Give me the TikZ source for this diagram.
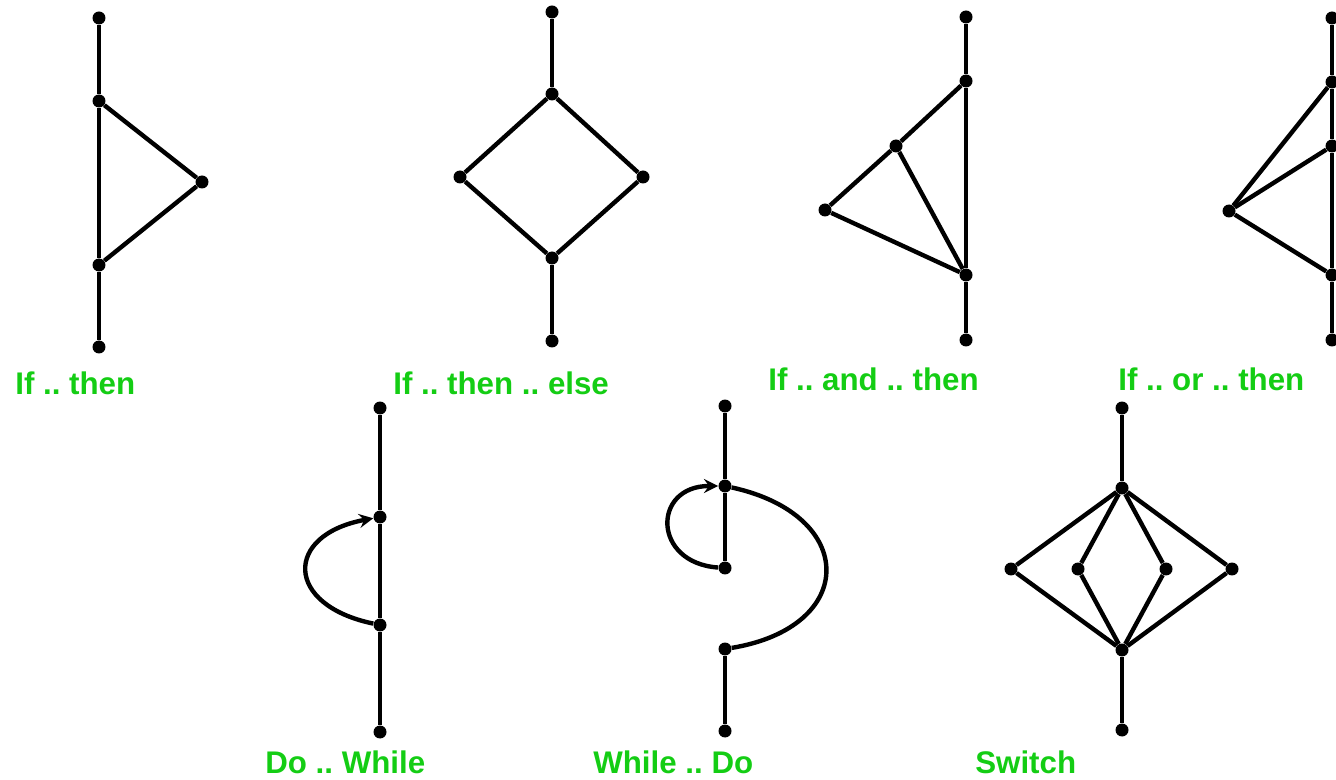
\documentclass[tikz,border=0pt]{standalone}
\usepackage{fontspec}
\setmainfont{Liberation Sans}
\usetikzlibrary{arrows,positioning}
\definecolor{lblgreen}{RGB}{20,205,20}
\frenchspacing

\begin{document}
\begin{tikzpicture}[
    x=0.02cm, y=-0.02cm,
    dot/.style={circle, fill=black, inner sep=0pt, minimum size=0.26cm},
    edge/.style={line width=2.5pt},
    arrow/.style={edge, ->, >=stealth},
    lbl/.style={anchor=base west, text=lblgreen, font=\fontsize{17.8}{20}\selectfont\bfseries, inner sep=0pt}
]
    \useasboundingbox (0,0) rectangle (1336,780);

    % If .. then
    \node[dot] (it-top) at (99,18) {};
    \node[dot] (it-a) at (99,101) {};
    \node[dot] (it-r) at (202,182) {};
    \node[dot] (it-b) at (99,265) {};
    \node[dot] (it-bot) at (99,347) {};
    \draw[edge] (it-top) -- (it-a);
    \draw[edge] (it-a) -- (it-b);
    \draw[edge] (it-b) -- (it-bot);
    \draw[edge] (it-a) -- (it-r);
    \draw[edge] (it-r) -- (it-b);
    \node[lbl] (it-lbl) at (15,395) {If .. then};

    % If .. then .. else
    \node[dot] (ite-top) at (552,12) {};
    \node[dot] (ite-a) at (552,94) {};
    \node[dot] (ite-l) at (460,177) {};
    \node[dot] (ite-r) at (643,177) {};
    \node[dot] (ite-b) at (552,258) {};
    \node[dot] (ite-bot) at (552,341) {};
    \draw[edge] (ite-top) -- (ite-a);
    \draw[edge] (ite-a) -- (ite-l);
    \draw[edge] (ite-a) -- (ite-r);
    \draw[edge] (ite-l) -- (ite-b);
    \draw[edge] (ite-r) -- (ite-b);
    \draw[edge] (ite-b) -- (ite-bot);
    \node[lbl] (ite-lbl) at (393,395) {If .. then .. else};

    % If .. and .. then
    \node[dot] (iat-top) at (966,17) {};
    \node[dot] (iat-a) at (966,81) {};
    \node[dot] (iat-m) at (896,146) {};
    \node[dot] (iat-l) at (825,210) {};
    \node[dot] (iat-b) at (966,275) {};
    \node[dot] (iat-bot) at (966,340) {};
    \draw[edge] (iat-top) -- (iat-a);
    \draw[edge] (iat-a) -- (iat-b);
    \draw[edge] (iat-b) -- (iat-bot);
    \draw[edge] (iat-a) -- (iat-m);
    \draw[edge] (iat-m) -- (iat-l);
    \draw[edge] (iat-l) -- (iat-b);
    \draw[edge] (iat-m) -- (iat-b);
    \node[lbl] (iat-lbl) at (768,391) {If .. and .. then};

    % If .. or .. then
    \node[dot] (iot-top) at (1332,18) {};
    \node[dot] (iot-a) at (1332,82) {};
    \node[dot] (iot-m) at (1332,146) {};
    \node[dot] (iot-l) at (1229,211) {};
    \node[dot] (iot-b) at (1332,275) {};
    \node[dot] (iot-bot) at (1332,340) {};
    \draw[edge] (iot-top) -- (iot-a);
    \draw[edge] (iot-a) -- (iot-m);
    \draw[edge] (iot-m) -- (iot-b);
    \draw[edge] (iot-b) -- (iot-bot);
    \draw[edge] (iot-l) -- (iot-a);
    \draw[edge] (iot-l) -- (iot-m);
    \draw[edge] (iot-l) -- (iot-b);
    \node[lbl] (iot-lbl) at (1118,391) {If .. or .. then};

    % Do .. While
    \node[dot] (dw-top) at (380,408) {};
    \node[dot] (dw-a) at (380,517) {};
    \node[dot] (dw-b) at (380,625) {};
    \node[dot] (dw-bot) at (380,732) {};
    \draw[edge] (dw-top) -- (dw-a);
    \draw[edge] (dw-a) -- (dw-b);
    \draw[edge] (dw-b) -- (dw-bot);
    \draw[arrow] (dw-b) .. controls (284,605) and (284,535) .. (dw-a);
    \node[lbl] (dw-lbl) at (265,773) {Do .. While};

    % While .. Do
    \node[dot] (wd-top) at (725,406) {};
    \node[dot] (wd-a) at (725,486) {};
    \node[dot] (wd-c) at (725,568) {};
    \node[dot] (wd-d) at (725,649) {};
    \node[dot] (wd-bot) at (725,731) {};
    \draw[edge] (wd-top) -- (wd-a);
    \draw[edge] (wd-a) -- (wd-c);
    \draw[edge] (wd-d) -- (wd-bot);
    \draw[arrow] (wd-c) .. controls (652,563) and (652,486) .. (wd-a);
    \draw[edge] (wd-a) .. controls (858,515) and (858,627) .. (wd-d);
    \node[lbl] (wd-lbl) at (593,773) {While .. Do};

    % Switch
    \node[dot] (sw-top) at (1122,408) {};
    \node[dot] (sw-a) at (1122,488) {};
    \node[dot] (sw-l) at (1011,569) {};
    \node[dot] (sw-il) at (1078,569) {};
    \node[dot] (sw-ir) at (1166,569) {};
    \node[dot] (sw-r) at (1232,569) {};
    \node[dot] (sw-b) at (1122,650) {};
    \node[dot] (sw-bot) at (1122,730) {};
    \draw[edge] (sw-top) -- (sw-a);
    \draw[edge] (sw-b) -- (sw-bot);
    \foreach \n in {l,il,ir,r} {
        \draw[edge] (sw-a) -- (sw-\n);
        \draw[edge] (sw-\n) -- (sw-b);
    }
    \node[lbl] (sw-lbl) at (975,773) {Switch};
\end{tikzpicture}
\end{document}
